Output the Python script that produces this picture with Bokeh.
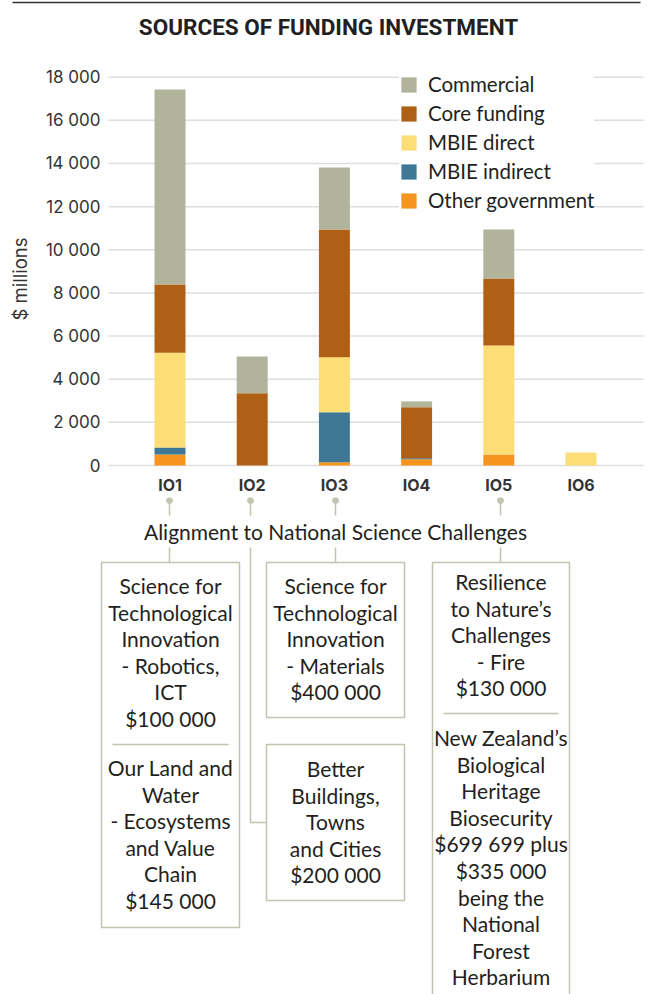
from bokeh.plotting import figure
from bokeh.models import ColumnDataSource, Range1d, FixedTicker, Legend, LegendItem
from bokeh.layouts import column
from bokeh.embed import file_html
from bokeh.resources import INLINE
from bokeh.core.properties import value

# ---------------- data ----------------
programmes = ["IO1", "IO2", "IO3", "IO4", "IO5", "IO6"]
other_government = [510, 0, 150, 290, 510, 0]
mbie_indirect = [320, 0, 2320, 50, 0, 0]
mbie_direct = [4400, 0, 2550, 0, 5050, 600]
core_funding = [3160, 3350, 5920, 2360, 3110, 0]
commercial = [9040, 1700, 2870, 270, 2270, 0]

series_labels = ["Other government", "MBIE indirect", "MBIE direct", "Core funding", "Commercial"]
y_ticks = [0, 2000, 4000, 6000, 8000, 10000, 12000, 14000, 16000, 18000]
y_tick_labels = ["0", "2 000", "4 000", "6 000", "8 000", "10 000", "12 000", "14 000", "16 000", "18 000"]

title_text = "SOURCES OF FUNDING INVESTMENT"
y_axis_title = "$ millions"
alignment_title = "Alignment to National Science Challenges"

io1_challenges = [
    ["Science for", "Technological", "Innovation", "- Robotics,", "ICT", "$100 000"],
    ["Our Land and", "Water", "- Ecosystems", "and Value", "Chain", "$145 000"],
]
io3_challenges = [["Science for", "Technological", "Innovation", "- Materials", "$400 000"]]
io2_challenges = [["Better", "Buildings,", "Towns", "and Cities", "$200 000"]]
io5_challenges = [
    ["Resilience", "to Nature\u2019s", "Challenges", "- Fire", "$130 000"],
    ["New Zealand\u2019s", "Biological", "Heritage", "Biosecurity", "$699 699 plus",
     "$335 000", "being the", "National", "Forest", "Herbarium"],
]

# ---------------- styles / layout ----------------
colors = ["#f5951f", "#3f7896", "#fddd75", "#b06014", "#b1b39b"]
text_color = "#231f20"
guide_color = "#c2c4b0"
FONT = "Lato"
W = 647
PX_PER_CAT = 82.2      # pixels between bar centres
FIRST_CENTRE_PX = 169.5
AXIS_PX = 108          # left edge of plotting area
RIGHT_PX = 643
HDR_H = 56
CHART_H = 441
FRAME_TOP_PX = 60      # page y of frame top
ZERO_PX = 465          # page y of value 0
PX_PER_UNIT = 388.3 / 18000

# ---------------- header ----------------
hdr = figure(width=W, height=HDR_H, x_range=Range1d(0, W), y_range=Range1d(HDR_H, 0),
             output_backend="svg", toolbar_location=None, min_border=0,
             x_axis_location=None, y_axis_location=None)
hdr.grid.visible = False
hdr.outline_line_color = None
hdr.segment(x0=[12], y0=[2], x1=[640], y1=[2], line_color="#333333", line_width=1.5)
hdr.text(x=[328], y=[26], text=[title_text], text_font=value("Roboto"), text_font_style="bold",
         text_font_size="22.5px", text_align="center", text_baseline="middle", text_color=text_color)

# ---------------- chart ----------------
x_pos = list(range(1, len(programmes) + 1))
x_start = 1 - FIRST_CENTRE_PX / PX_PER_CAT
x_end = x_start + W / PX_PER_CAT
x_axis_loc = x_start + AXIS_PX / PX_PER_CAT
x_right = x_start + RIGHT_PX / PX_PER_CAT

frame_bottom_px = HDR_H + CHART_H
y_start = -(frame_bottom_px - ZERO_PX) / PX_PER_UNIT
y_end = (ZERO_PX - FRAME_TOP_PX) / PX_PER_UNIT

src = ColumnDataSource(dict(x=x_pos, og=other_government, mi=mbie_indirect, md=mbie_direct,
                            cf=core_funding, co=commercial))
keys = ["og", "mi", "md", "cf", "co"]

p = figure(width=W, height=CHART_H, x_range=Range1d(x_start, x_end), y_range=Range1d(y_start, y_end),
           output_backend="svg", toolbar_location=None,
           min_border_left=0, min_border_right=0, min_border_top=FRAME_TOP_PX - HDR_H,
           min_border_bottom=0)
p.outline_line_color = None
p.grid.visible = False

p.segment(x0=[x_axis_loc] * len(y_ticks), x1=[x_right] * len(y_ticks), y0=y_ticks, y1=y_ticks,
          line_color="#dedede", line_width=1.5, level="underlay")

rends = p.vbar_stack(keys, x="x", width=0.377, fill_color=colors, line_color=None, source=src)

p.yaxis.fixed_location = x_axis_loc
p.yaxis.ticker = FixedTicker(ticks=y_ticks)
p.yaxis.major_label_overrides = dict(zip(y_ticks, y_tick_labels))
p.yaxis.axis_label = y_axis_title
p.yaxis.axis_label_text_font = "Inter"
p.yaxis.axis_label_text_font_style = "normal"
p.yaxis.axis_label_text_font_size = "18.5px"
p.yaxis.axis_label_text_color = "#333333"
p.yaxis.axis_label_standoff = 12
p.yaxis.major_label_text_font = "Inter"
p.yaxis.major_label_text_font_size = "17px"
p.yaxis.major_label_text_color = "#333333"
p.yaxis.major_label_standoff = 8

p.xaxis.fixed_location = 0
p.xaxis.ticker = FixedTicker(ticks=x_pos)
p.xaxis.major_label_overrides = dict(zip(x_pos, programmes))
p.xaxis.major_label_text_font = "Inter"
p.xaxis.major_label_text_font_style = "bold"
p.xaxis.major_label_text_font_size = "16px"
p.xaxis.major_label_text_color = "#333333"
p.xaxis.major_label_standoff = 9

for ax in (p.xaxis, p.yaxis):
    ax.axis_line_color = None
    ax.major_tick_line_color = None
    ax.minor_tick_line_color = None
    ax.major_tick_out = 0
    ax.major_tick_in = 0
    ax.minor_tick_out = 0
    ax.minor_tick_in = 0

items = [LegendItem(label=series_labels[i], renderers=[rends[i]]) for i in reversed(range(5))]
legend = Legend(items=items, location=(399, 285), orientation="vertical")
legend.glyph_width = 19
legend.glyph_height = 19
legend.label_height = 19
legend.spacing = 5
legend.padding = 8
legend.margin = 0
legend.label_standoff = 10
legend.label_text_font = FONT
legend.label_text_font_size = "20.5px"
legend.label_text_color = text_color
legend.background_fill_color = "white"
legend.background_fill_alpha = 1.0
legend.border_line_color = None
p.add_layout(legend)

# ---------------- bottom diagram ----------------
top_y = HDR_H + CHART_H
bot = figure(width=W, height=994 - top_y, x_range=Range1d(0, W), y_range=Range1d(994, top_y),
             output_backend="svg", toolbar_location=None, min_border=0,
             x_axis_location=None, y_axis_location=None)
bot.grid.visible = False
bot.outline_line_color = None

conn_x = [169, 250, 335, 500]
bot.scatter(x=conn_x, y=[500] * 4, size=6, color=guide_color)
bot.segment(x0=conn_x, y0=[500] * 4, x1=conn_x, y1=[515] * 4, line_color=guide_color, line_width=1.5)
bot.text(x=[335], y=[531], text=[alignment_title], text_font=value(FONT), text_font_size="21px",
         text_align="center", text_baseline="middle", text_color=text_color)
bot.segment(x0=[169, 335, 500], y0=[547] * 3, x1=[169, 335, 500], y1=[562] * 3,
            line_color=guide_color, line_width=1.5)
bot.line(x=[250, 250, 266], y=[547, 822, 822], line_color=guide_color, line_width=1.5)

# boxes: (left, right, top, bottom)
boxes = [(101, 239, 562, 927), (266, 404, 562, 717), (266, 404, 744, 900), (432, 569, 562, 1004)]
bot.quad(left=[b[0] for b in boxes], right=[b[1] for b in boxes], top=[b[2] for b in boxes],
         bottom=[b[3] for b in boxes], fill_color=None, line_color=guide_color, line_width=1.5)
bot.segment(x0=[112, 443], y0=[744, 713], x1=[228, 558], y1=[744, 713],
            line_color=guide_color, line_width=1.5)

line_gap = 26.6
groups = [
    (170, 585, io1_challenges[0]), (170, 767, io1_challenges[1]),
    (335, 585, io3_challenges[0]), (335, 768, io2_challenges[0]),
    (500.5, 581, io5_challenges[0]), (500.5, 737, io5_challenges[1]),
]
tx, ty, tt = [], [], []
for cx, y0, lines in groups:
    for i, t in enumerate(lines):
        tx.append(cx)
        ty.append(y0 + i * line_gap)
        tt.append(t)
bot.text(x=tx, y=ty, text=tt, text_font=value(FONT), text_font_size="21px",
         text_align="center", text_baseline="middle", text_color=text_color)

layout = column(hdr, p, bot, spacing=0)
open("out.html", "w").write(file_html(layout, INLINE))
